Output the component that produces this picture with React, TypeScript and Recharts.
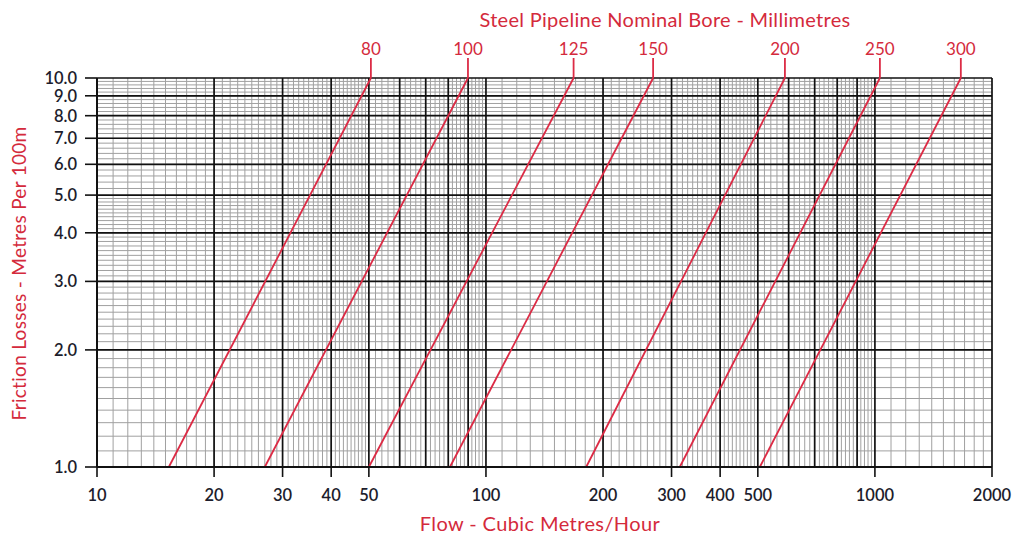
import React from "react";
import {
  LineChart,
  Line,
  XAxis,
  YAxis,
  ReferenceLine,
} from "recharts";

// pipe sizes (mm) and the flow (m3/h) where each line meets 1.0 and 10.0 m/100m
const bores = [80, 100, 125, 150, 200, 250, 300];
const flowAtLoss1 = [15.3, 27.0, 50, 80.8, 181, 315, 506];
const flowAtLoss10 = [50.6, 89.9, 168, 269, 587, 1030, 1663];
const lossEnds = [1, 10];

const xTicks = [10, 20, 30, 40, 50, 100, 200, 300, 400, 500, 1000, 2000];
const yTicks = [1, 2, 3, 4, 5, 6, 7, 8, 9, 10];

// log paper: [from, to, step]
const xMinorBands = [
  [10, 50, 1],
  [50, 100, 2],
  [100, 500, 10],
  [500, 1000, 20],
  [1000, 2000, 100],
];
const yMinorBands = [
  [1, 5, 0.1],
  [5, 10, 0.2],
];
const xMajor = [10, 20, 30, 40, 50, 60, 70, 80, 90, 100, 200, 300, 400, 500, 600, 700, 800, 900, 1000, 2000];
const yMajor = [1, 2, 3, 4, 5, 6, 7, 8, 9, 10];

const bandValues = (bands: number[][]) => {
  const out: number[] = [];
  bands.forEach(([from, to, step]) => {
    const n = Math.round((to - from) / step);
    for (let i = 1; i < n; i++) out.push(+(from + i * step).toFixed(3));
  });
  return out;
};

const xMinor = bandValues(xMinorBands);
const yMinor = bandValues(yMinorBands);

const series = bores.map((b, i) => ({
  bore: b,
  data: [
    { flow: flowAtLoss1[i], loss: lossEnds[0] },
    { flow: flowAtLoss10[i], loss: lossEnds[1] },
  ],
}));

const RED = "#dc2b45";
const TEXT_RED = "#d42a3c";
const FONT = "Lato, 'Open Sans', sans-serif";
const MINOR = "#a0a0a0";
const MAJOR = "#111";

const App: React.FC = () => {
  const tickStyle = { fontSize: 16.5, fill: "#1d1d2c", fontFamily: FONT, fontWeight: 600 };

  return (
    <div style={{ position: "absolute", left: 0, top: 0, width: 1017, height: 538, background: "#fff", fontFamily: FONT }}>
      <LineChart width={1017} height={538} margin={{ top: 78, right: 25, left: 37, bottom: 31 }}>
        <XAxis
          type="number"
          dataKey="flow"
          scale="log"
          domain={[10, 2000]}
          ticks={xTicks}
          interval={0}
          height={40}
          tickSize={10}
          tickMargin={12}
          axisLine={{ stroke: MAJOR, strokeWidth: 2 }}
          tickLine={{ stroke: MAJOR, strokeWidth: 1.6 }}
          tick={tickStyle}
        />
        <YAxis
          type="number"
          dataKey="loss"
          scale="log"
          domain={[1, 10]}
          ticks={yTicks}
          interval={0}
          width={60}
          tickSize={12}
          tickMargin={8}
          tickFormatter={(v: number) => v.toFixed(1)}
          axisLine={{ stroke: MAJOR, strokeWidth: 2 }}
          tickLine={{ stroke: MAJOR, strokeWidth: 1.6 }}
          tick={tickStyle}
        />
        {xMinor.map((v) => (
          <ReferenceLine key={`xm-${v}`} x={v} stroke={MINOR} strokeWidth={1} />
        ))}
        {yMinor.map((v) => (
          <ReferenceLine key={`ym-${v}`} y={v} stroke={MINOR} strokeWidth={1} />
        ))}
        {xMajor.map((v) => (
          <ReferenceLine key={`xM-${v}`} x={v} stroke={MAJOR} strokeWidth={1.7} />
        ))}
        {yMajor.map((v) => (
          <ReferenceLine key={`yM-${v}`} y={v} stroke={MAJOR} strokeWidth={1.7} />
        ))}
        {series.map((s) => (
          <Line
            key={s.bore}
            data={s.data}
            dataKey="loss"
            stroke={RED}
            strokeWidth={1.8}
            isAnimationActive={false}
            activeDot={false}
            dot={(p: any) =>
              p.index === 1 ? (
                <g key={`top-${s.bore}`}>
                  <line x1={p.cx} y1={p.cy} x2={p.cx} y2={p.cy - 20} stroke={RED} strokeWidth={1.8} />
                  <text
                    x={p.cx}
                    y={p.cy - 23}
                    textAnchor="middle"
                    fill={TEXT_RED}
                    fontSize={17}
                    fontFamily={FONT}
                  >
                    {s.bore}
                  </text>
                </g>
              ) : (
                <g key={`bot-${s.bore}`} />
              )
            }
          />
        ))}
      </LineChart>
      <div style={{ position: "absolute", left: 0, width: 1330, top: 7, textAlign: "center", color: TEXT_RED, fontSize: 20, letterSpacing: 0.3 }}>
        Steel Pipeline Nominal Bore - Millimetres
      </div>
      <div style={{ position: "absolute", left: 0, width: 1080, top: 511, textAlign: "center", color: TEXT_RED, fontSize: 20, letterSpacing: 0.4 }}>
        Flow - Cubic Metres/Hour
      </div>
      <div
        style={{
          position: "absolute",
          left: 18,
          top: 274,
          width: 400,
          marginLeft: -200,
          marginTop: -12,
          textAlign: "center",
          color: TEXT_RED,
          fontSize: 19,
          letterSpacing: 0.3,
          transform: "rotate(-90deg)",
        }}
      >
        Friction Losses - Metres Per 100m
      </div>
    </div>
  );
};

export default App;
